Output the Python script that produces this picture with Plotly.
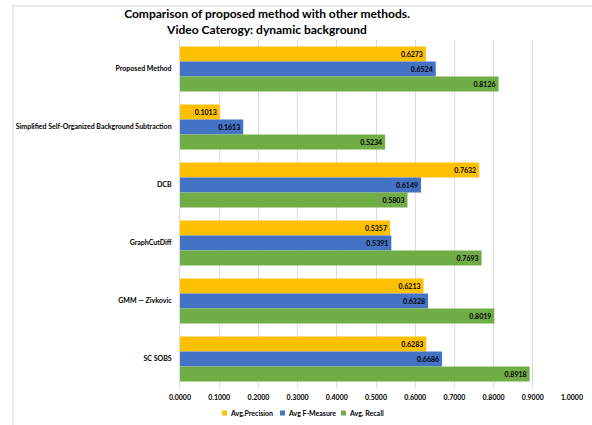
import plotly.graph_objects as go

methods = [
    "Proposed Method",
    "Simplified Self-Organized Background Subtraction",
    "DCB",
    "GraphCutDiff",
    "GMM — Zivkovic",
    "SC SOBS",
]
avg_precision = [0.6273, 0.1013, 0.7632, 0.5357, 0.6213, 0.6283]
avg_fmeasure = [0.6524, 0.1613, 0.6149, 0.5391, 0.6328, 0.6686]
avg_recall = [0.8126, 0.5234, 0.5803, 0.7693, 0.8019, 0.8918]
x_ticks = [round(i * 0.1, 1) for i in range(11)]

series = [
    ("Avg.Precision", avg_precision, "#FFC000"),
    ("Avg F-Measure", avg_fmeasure, "#4472C4"),
    ("Avg. Recall", avg_recall, "#70AD47"),
]

FONT = "Lato"
W, H = 592, 425
ML, MR, MT, MB = 180, 20, 40, 37
PW, PH = W - ML - MR, H - MT - MB


def px_x(x):
    return (x - ML) / PW


def px_y(y):
    return (H - MB - y) / PH


fig = go.Figure()
for name, vals, color in series:
    fig.add_trace(go.Bar(
        name=name,
        y=methods,
        x=vals,
        orientation="h",
        marker=dict(color=color, line=dict(width=0)),
        text=[f"{v:.4f}" for v in vals],
        textposition="inside",
        insidetextanchor="end",
        textangle=0,
        textfont=dict(family=FONT, size=7, color="#000000", weight="bold"),
        constraintext="none",
        showlegend=False,
    ))

fig.update_layout(
    width=W,
    height=H,
    barmode="group",
    bargap=0.22,
    bargroupgap=0,
    paper_bgcolor="white",
    plot_bgcolor="white",
    margin=dict(l=ML, r=MR, t=MT, b=MB, autoexpand=False),
    font=dict(family=FONT, size=7, color="#000000"),
    title=dict(
        text="<b>Comparison of proposed method with other methods.<br>Video Caterogy: dynamic background</b>",
        x=267 / W,
        xanchor="center",
        y=0.957,
        yanchor="middle",
        font=dict(family=FONT, size=12, color="#000000"),
    ),
    xaxis=dict(
        range=[0, 1.0],
        tickvals=x_ticks,
        ticktext=[f"<b>{t:.4f}</b>" for t in x_ticks],
        showgrid=True,
        gridcolor="#DDDDDD",
        gridwidth=1,
        zeroline=False,
        showline=False,
        ticks="",
        automargin=False,
        ticklabelstandoff=4,
        tickfont=dict(family=FONT, size=7, color="#000000"),
        fixedrange=True,
    ),
    yaxis=dict(
        autorange="reversed",
        tickvals=methods,
        ticktext=[f"<b>{m}</b>" for m in methods],
        showgrid=False,
        showline=True,
        linecolor="#DDDDDD",
        ticks="",
        automargin=False,
        ticklabelstandoff=6,
        tickfont=dict(family=FONT, size=7, color="#000000"),
    ),
    showlegend=False,
)

# Light chart-area frame (top and left edges)
fig.add_shape(type="line", xref="paper", yref="paper",
              x0=px_x(12), x1=px_x(600), y0=px_y(6), y1=px_y(6),
              line=dict(color="#E6E9EE", width=2))
fig.add_shape(type="line", xref="paper", yref="paper",
              x0=px_x(13), x1=px_x(13), y0=px_y(6), y1=px_y(430),
              line=dict(color="#E6E9EE", width=2))

# Legend: small colour squares with bold labels below the axis
legend_x = [222, 280, 341]
legend_y = 413
for (name, _, color), lx in zip(series, legend_x):
    fig.add_shape(type="rect", xref="paper", yref="paper",
                  x0=px_x(lx), x1=px_x(lx + 5),
                  y0=px_y(legend_y + 2.5), y1=px_y(legend_y - 2.5),
                  fillcolor=color, line=dict(width=0))
    fig.add_annotation(xref="paper", yref="paper",
                       x=px_x(lx + 6), y=px_y(legend_y),
                       xanchor="left", yanchor="middle",
                       text=f"<b>{name}</b>", showarrow=False,
                       font=dict(family=FONT, size=7, color="#000000"))

fig.write_html("out.html")
